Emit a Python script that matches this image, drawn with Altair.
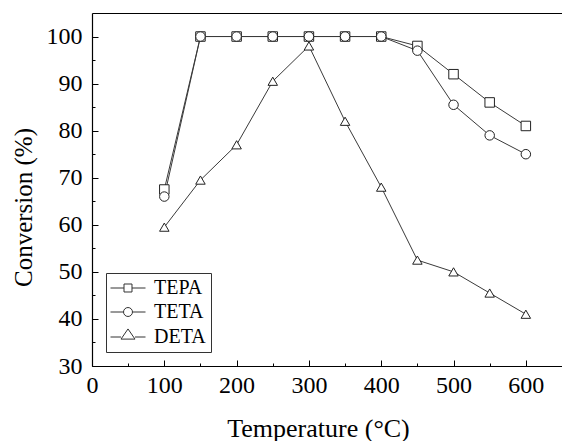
import altair as alt
import pandas as pd

temps = [100, 150, 200, 250, 300, 350, 400, 450, 500, 550, 600]
tepa = [67.5, 100, 100, 100, 100, 100, 100, 98, 92, 86, 81]
teta = [66, 100, 100, 100, 100, 100, 100, 97, 85.5, 79, 75]
deta = [59.5, 69.5, 77, 90.5, 98, 82, 68, 52.5, 50, 45.5, 41]
series = ["TEPA", "TETA", "DETA"]

x_major = [0, 100, 200, 300, 400, 500, 600]
x_minor = [50, 150, 250, 350, 450, 550]
y_major = [30, 40, 50, 60, 70, 80, 90, 100]
y_minor = [35, 45, 55, 65, 75, 85, 95]

rows = []
for name, vals in zip(series, [tepa, teta, deta]):
    for t, v in zip(temps, vals):
        rows.append({"T": t, "C": v, "series": name, "key": name})
df = pd.DataFrame(rows)

FONT = "Liberation Serif"
xs = alt.Scale(domain=[0, 650], nice=False)
ys = alt.Scale(domain=[30, 105], nice=False)

base = alt.Chart(df)

lines = base.mark_line(color="#3a3a3a", strokeWidth=1).encode(
    x=alt.X("T:Q", scale=xs, axis=alt.Axis(
        values=x_major, orient="bottom", title="Temperature (°C)", grid=False,
        tickSize={"expr": "-6"}, tickColor="black", domainColor="black", domainWidth=1.2,
        labelFont=FONT, labelFontSize=24, labelColor="black", labelPadding=13,
        labelFlush=False, labelOverlap=False,
        titleFont=FONT, titleFontSize=26, titleFontWeight="normal", titleColor="black",
        titleX=226, titleY=62, titleAlign="center", titleBaseline="middle")),
    y=alt.Y("C:Q", scale=ys, axis=alt.Axis(
        values=y_major, orient="left", title="Conversion (%)", grid=False,
        tickSize={"expr": "-6"}, tickColor="black", domainColor="black", domainWidth=1.2,
        labelFont=FONT, labelFontSize=24, labelColor="black", labelPadding=16,
        labelFlush=False, labelOverlap=False,
        titleFont=FONT, titleFontSize=25, titleFontWeight="normal", titleColor="black",
        titleX=-69, titleY=194, titleAngle=-90, titleAlign="center", titleBaseline="middle")),
    detail="series:N",
)

points = base.mark_point(fill="white", stroke="#222222", strokeWidth=1, opacity=1, filled=False).encode(
    x=alt.X("T:Q", scale=xs, axis=alt.Axis(
        values=x_minor, orient="bottom", title=None, labels=False, domain=False, grid=False,
        tickSize={"expr": "-3"}, tickColor="black")),
    y=alt.Y("C:Q", scale=ys, axis=alt.Axis(
        values=y_minor, orient="left", title=None, labels=False, domain=False, grid=False,
        tickSize={"expr": "-3"}, tickColor="black")),
    shape=alt.Shape("series:N", scale=alt.Scale(domain=series, range=["square", "circle", "triangle-up"]), legend=None),
    size=alt.Size("series:N", scale=alt.Scale(domain=series, range=[90, 90, 196]), legend=None),
)

leg_paths = [
    "M-2.5,0H-0.57M0.57,0H2.5M-0.57,-0.57H0.57V0.57H-0.57Z",
    "M-2.5,0H-0.64M0.64,0H2.5M-0.64,0A0.64,0.64,0,1,1,0.64,0A0.64,0.64,0,1,1,-0.64,0Z",
    "M-2.5,0H-1M1,0H2.5M-1,0.3L0,-1.15L1,0.3Z",
]

legend_layer = base.mark_point(opacity=0, size=196).encode(
    x=alt.X("T:Q", scale=xs, axis=alt.Axis(
        orient="top", title=None, labels=False, ticks=False, grid=False,
        domain=True, domainColor="black", domainWidth=1.2)),
    y=alt.Y("C:Q", scale=ys, axis=None),
    shape=alt.Shape("key:N", scale=alt.Scale(domain=series, range=leg_paths), legend=alt.Legend(
        title=None, orient="none", legendX=14, legendY=260,
        strokeColor="#333333", fillColor="white", padding=5,
        symbolSize=196, symbolFillColor="white", symbolStrokeColor="#333333",
        symbolStrokeWidth=1, symbolOpacity=1, symbolOffset=7,
        labelFont=FONT, labelFontSize=20, labelColor="black", labelOffset=16,
        rowPadding=4)),
)

chart = alt.layer(lines, points, legend_layer).resolve_axis(
    x="independent", y="independent"
).resolve_scale(shape="independent", size="independent").properties(
    width=470, height=353,
    padding={"left": 92, "top": 13, "right": 0, "bottom": 75},
    autosize=alt.AutoSizeParams(type="none"),
    background="white",
).configure_view(strokeWidth=0).configure_axis(
    labelFont=FONT, titleFont=FONT
).configure_legend(labelFont=FONT).configure(font=FONT)

chart.save("out.html", embed_options={"renderer": "svg", "actions": False})
